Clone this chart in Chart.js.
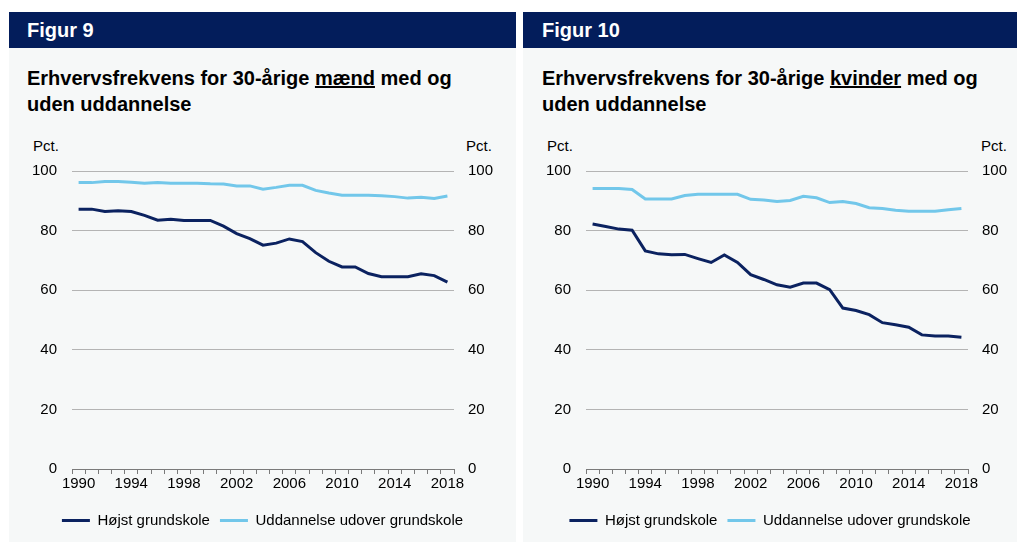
<!DOCTYPE html>
<html><head><meta charset="utf-8">
<script src="https://cdn.jsdelivr.net/npm/chart.js@4.4.0/dist/chart.umd.min.js"></script>
<style>
body{margin:0;width:1017px;height:542px;background:#fff;position:relative;overflow:hidden;font-family:"Liberation Sans",Arial,sans-serif}
.panel{position:absolute;top:12px;height:530px;background:#f6f8f8}
.head{position:absolute;top:0;left:0;right:0;height:36px;background:#031d5b;color:#fff;font-weight:bold;font-size:20px;line-height:36px;padding-left:18px}
.title{position:absolute;top:53px;left:18px;font-weight:bold;font-size:20px;line-height:26px;color:#000;white-space:nowrap}
.pct{position:absolute;top:125px;font-size:15px;line-height:18px;color:#000}
canvas{position:absolute;left:0;top:113px}
</style>
</head><body>
<div class="panel" style="left:9px;width:507px">
  <div class="head">Figur 9</div>
  <div class="title">Erhvervsfrekvens for 30-årige <u>mænd</u> med og<br>uden uddannelse</div>
  <div class="pct" style="left:24px">Pct.</div>
  <div class="pct" style="left:457px">Pct.</div>
  <canvas id="c1" width="507" height="417"></canvas>
</div>
<div class="panel" style="left:523px;width:494px">
  <div class="head" style="padding-left:19px">Figur 10</div>
  <div class="title" style="left:19px">Erhvervsfrekvens for 30-årige <u>kvinder</u> med og<br>uden uddannelse</div>
  <div class="pct" style="left:24px">Pct.</div>
  <div class="pct" style="left:458px">Pct.</div>
  <canvas id="c2" width="494" height="417"></canvas>
</div>
<script>
const years = [1990,1991,1992,1993,1994,1995,1996,1997,1998,1999,2000,2001,2002,2003,2004,2005,2006,2007,2008,2009,2010,2011,2012,2013,2014,2015,2016,2017,2018];
const yTicks = [0,20,40,60,80,100];
const seriesNames = ["Højst grundskole","Uddannelse udover grundskole"];
const menBasic = [87.2,87.2,86.4,86.7,86.4,85.1,83.5,83.8,83.4,83.4,83.4,81.5,79.0,77.3,75.1,75.8,77.2,76.3,72.6,69.7,67.8,67.8,65.6,64.5,64.5,64.5,65.5,64.9,62.7];
const menEdu = [96.1,96.1,96.5,96.5,96.2,95.9,96.1,95.9,95.9,95.9,95.7,95.6,95.0,95.0,93.9,94.5,95.2,95.2,93.5,92.6,91.9,91.9,91.9,91.7,91.4,90.9,91.2,90.8,91.6];
const womenBasic = [82.2,81.4,80.5,80.1,73.2,72.2,71.9,72.0,70.6,69.3,71.8,69.3,65.2,63.6,61.8,61.0,62.4,62.4,60.2,54.0,53.2,51.8,49.1,48.4,47.6,45.0,44.6,44.6,44.2];
const womenEdu = [94.1,94.1,94.1,93.8,90.6,90.6,90.6,91.8,92.2,92.2,92.2,92.2,90.5,90.3,89.8,90.1,91.5,91.0,89.4,89.8,89.1,87.7,87.4,86.8,86.5,86.5,86.5,87.0,87.4];

const NAVY = "#0b2260", SKY = "#72c7ea";
const FONT = {family:'"Liberation Sans", Arial, sans-serif', size:15};

function makeChart(id, basic, edu, leftW, rightW){
  new Chart(document.getElementById(id), {
    type:'line',
    data:{
      labels: years,
      datasets:[
        {label:seriesNames[0], data:basic, borderColor:NAVY, backgroundColor:NAVY, borderWidth:3, pointRadius:0, tension:0, yAxisID:'y'},
        {label:seriesNames[1], data:edu, borderColor:SKY, backgroundColor:SKY, borderWidth:3, pointRadius:0, tension:0, yAxisID:'y'}
      ]
    },
    options:{
      responsive:false, animation:false, devicePixelRatio:1,
      layout:{padding:{top:46,bottom:4,left:0,right:0}},
      plugins:{
        tooltip:{enabled:false},
        legend:{
          position:'bottom',
          labels:{
            color:'#000', font:FONT, boxWidth:28, boxHeight:3, padding:10,
            generateLabels(chart){
              return Chart.defaults.plugins.legend.labels.generateLabels(chart).map(l=>Object.assign(l,{lineWidth:0}));
            }
          }
        }
      },
      scales:{
        x:{
          type:'category', offset:true,
          grid:{display:true, drawOnChartArea:false, drawTicks:true, tickLength:5, color:'#7a7a7a', offset:true},
          border:{display:true, color:'#7a7a7a', width:1},
          ticks:{color:'#000', font:FONT, autoSkip:false, maxRotation:0, padding:1,
            callback(v, i){ const yr = years[i]; return (yr-years[0])%4===0 ? String(yr) : ''; }},
          afterFit(s){ s.height = 34; }
        },
        y:{
          position:'left', min:0, max:100,
          afterBuildTicks(s){ s.ticks = yTicks.map(v=>({value:v})); },
          grid:{color:(c)=> c.tick && c.tick.value===0 ? 'rgba(0,0,0,0)' : '#b4b4b4', drawTicks:false, lineWidth:1},
          border:{display:false},
          ticks:{color:'#000', font:FONT, padding:15},
          afterFit(s){ s.width = leftW; }
        },
        y2:{
          position:'right', min:0, max:100,
          afterBuildTicks(s){ s.ticks = yTicks.map(v=>({value:v})); },
          grid:{display:false, drawTicks:false},
          border:{display:false},
          ticks:{color:'#000', font:FONT, padding:14},
          afterFit(s){ s.width = rightW; }
        }
      }
    }
  });
}
makeChart('c1', menBasic, menEdu, 63, 62);
makeChart('c2', womenBasic, womenEdu, 63, 49);
</script>
</body></html>
